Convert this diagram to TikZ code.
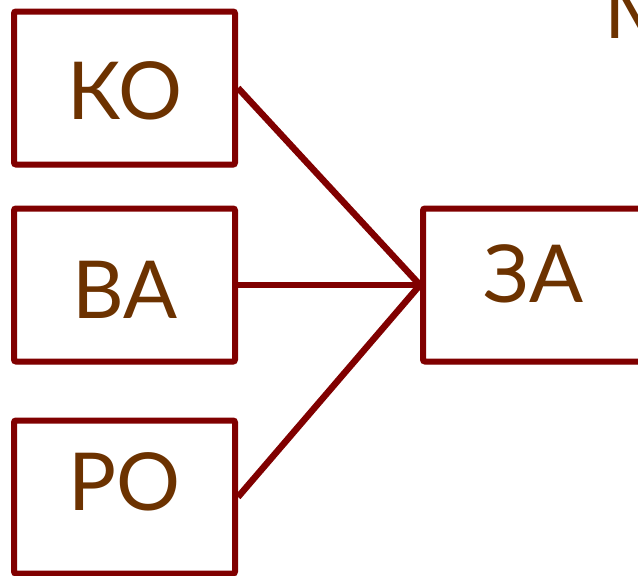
\documentclass[tikz,border=0pt]{standalone}
\usepackage{fontspec}
\setmainfont{Lato}
\usepackage{tikz}
\usetikzlibrary{shapes,arrows,positioning,shadows}

\definecolor{boxred}{RGB}{128,0,0}
\definecolor{txtbrown}{RGB}{108,50,0}

\tikzset{
	syllable/.style={draw=boxred, line width=6pt, rounded corners=2pt, fill=white,
		minimum width=221pt, minimum height=153pt, inner sep=0pt,
		drop shadow={opacity=0.25, shadow xshift=2pt, shadow yshift=-3pt}},
	sylltext/.style={text=txtbrown, font=\fontsize{80}{90}\selectfont, anchor=base, inner sep=0pt},
	link/.style={draw=boxred, line width=6.5pt}
}

\begin{document}
\begin{tikzpicture}[x=1pt, y=-1pt]
				\useasboundingbox (0,0) rectangle (638,576);

				\node [syllable] (ko) at (124.5,88) {};
				\node [syllable] (ba) at (124.5,285) {};
				\node [syllable] (po) at (124.5,497) {};
				\node [syllable] (za) at (533.5,285) {};

				\node [sylltext] (kotext) at ([yshift=-31pt]ko.center) {КО};
				\node [sylltext] (batext) at ([yshift=-33pt]ba.center) {ВА};
				\node [sylltext] (potext) at ([yshift=-13pt]po.center) {РО};
				\node [sylltext] (zatext) at ([yshift=-17pt]za.center) {ЗА};

				\node [sylltext, anchor=base west] (title) at (604,38) {М};

				\draw [link] (ko.east) -- (za.west);
				\draw [link] (ba.east) -- (za.west);
				\draw [link] (po.east) -- (za.west);

				\end{tikzpicture}
\end{document}
